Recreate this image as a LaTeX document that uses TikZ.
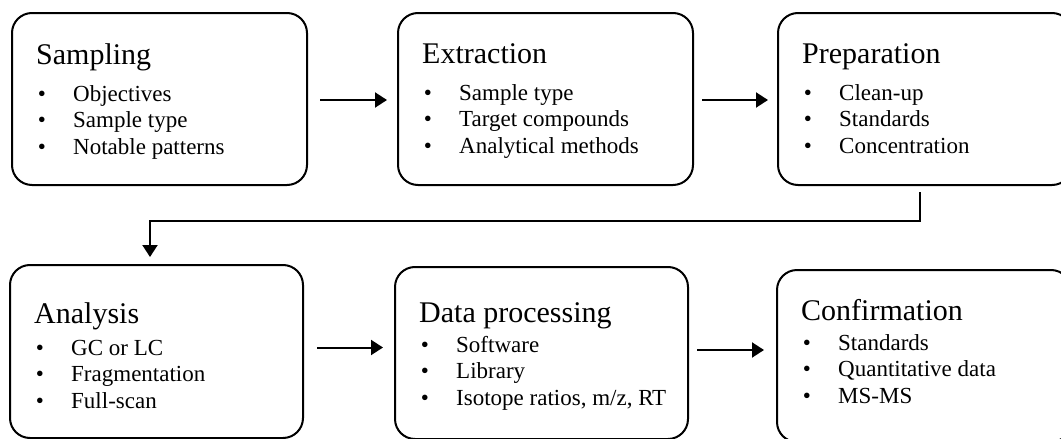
\documentclass[tikz,border=0pt]{standalone}
\usepackage{fontspec}
\setmainfont{Liberation Serif}
\usetikzlibrary{calc,arrows.meta}
\newcommand\mkbox[9]{%
  \node[box, minimum width=#4pt, minimum height=#5pt] (#1) at (#2,#3) {};
  \node[ttl] (#1-t) at ($(#1.north west)+(24,#6)$) {#8};
  \foreach \itx [count=\k] in {#9} {
    \node[bul] (#1-b\k) at ($(#1.north west)+(30,{#7+26.8*(\k-1)})$) {•};
    \node[itm] (#1-i\k) at ($(#1.north west)+(61,{#7+26.8*(\k-1)})$) {\itx};
  }%
}
\begin{document}
\begin{tikzpicture}[x=1pt,y=-1pt,
  box/.style={draw, line width=2pt, rounded corners=20pt, anchor=north west, inner sep=0pt, outer sep=0pt},
  ttl/.style={anchor=base west, inner sep=0pt, font=\fontsize{30}{36}\selectfont},
  itm/.style={anchor=base west, inner sep=0pt, font=\fontsize{23}{27}\selectfont},
  bul/.style={anchor=base, inner sep=0pt, font=\fontsize{23}{27}\selectfont},
  arr/.style={line width=2pt, -{Triangle[length=12pt,width=15pt]}}]
\useasboundingbox (0,0) rectangle (1061,439);
\fill[white] (0,0) rectangle (1061,439);
\clip (0,0) rectangle (1061,439);
\mkbox{b1}{12}{13}{295}{172}{51}{88}{Sampling}{Objectives,Sample type,Notable patterns}
\mkbox{b2}{398}{13}{295}{172}{50}{87}{Extraction}{Sample type,Target compounds,Analytical methods}
\mkbox{b3}{778}{13}{294}{172}{50}{87}{Preparation}{Clean-up,Standards,Concentration}
\mkbox{b4}{10}{265}{293}{173}{58}{90}{Analysis}{GC or LC,Fragmentation,Full-scan}
\mkbox{b5}{395}{267}{293}{172}{55}{85}{Data processing}{Software,Library,{Isotope ratios, m/z, RT}}
\mkbox{b6}{777}{270}{294}{172}{50}{80}{Confirmation}{Standards,Quantitative data,MS-MS}
% row 1 arrows
\coordinate (s1) at ($(b1.east)+(13,1)$);
\draw[arr, shorten >=11pt] (s1) -- (s1 -| b2.west);
\coordinate (s2) at ($(b2.east)+(9,1)$);
\draw[arr, shorten >=10pt] (s2) -- (s2 -| b3.west);
% row 2 arrows
\coordinate (s3) at ($(b4.east)+(14,-4)$);
\draw[arr, shorten >=12pt] (s3) -- (s3 -| b5.west);
\coordinate (s4) at ($(b5.east)+(9,-3)$);
\draw[arr, shorten >=13pt] (s4) -- (s4 -| b6.west);
% connector
\coordinate (c0) at ($(b3.south west)+(142,7)$);
\coordinate (c1) at ($(b4.north west)+(140,-8)$);
\draw[arr] (c0) |- ($(c1)+(0,-36)$) -- (c1);
\end{tikzpicture}
\end{document}
